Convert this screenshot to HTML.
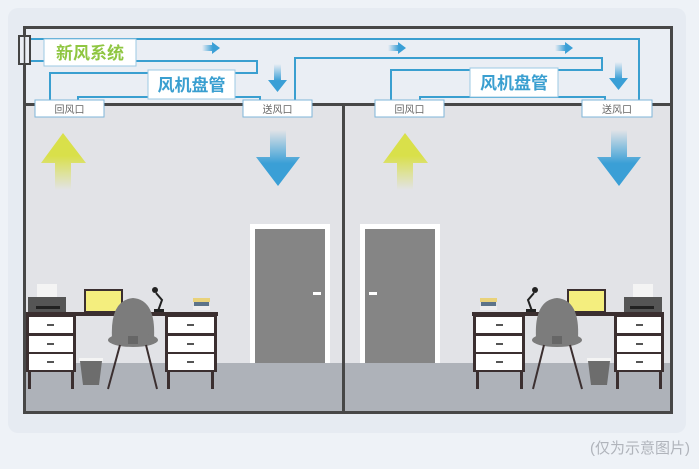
<!DOCTYPE html>
<html><head><meta charset="utf-8"><style>
html,body{margin:0;padding:0;background:#eef2f7;}
svg{display:block;font-family:"Liberation Sans","Noto Sans CJK SC",sans-serif;}
</style></head><body>
<svg width="699" height="469" viewBox="0 0 699 469" xmlns="http://www.w3.org/2000/svg">
<defs>
<linearGradient id="yel" x1="0" y1="0" x2="0" y2="1"><stop offset="0.4" stop-color="#d9e04a"/><stop offset="1" stop-color="#d9e04a" stop-opacity="0"/></linearGradient>
<linearGradient id="blu" x1="0" y1="1" x2="0" y2="0"><stop offset="0.4" stop-color="#3a9fd6"/><stop offset="1" stop-color="#3a9fd6" stop-opacity="0"/></linearGradient>
<linearGradient id="bluh" x1="1" y1="0" x2="0" y2="0"><stop offset="0.4" stop-color="#3a9fd6"/><stop offset="1" stop-color="#3a9fd6" stop-opacity="0"/></linearGradient>
<g id="furn">
 <!-- left drawer unit -->
 <rect x="26" y="312" width="192" height="4" fill="#3b2f30"/>
 <rect x="26" y="314" width="50" height="58" fill="#3b2f30"/>
 <rect x="29" y="317" width="44" height="16" fill="#fff"/>
 <rect x="29" y="336" width="44" height="16" fill="#fff"/>
 <rect x="29" y="354" width="44" height="16" fill="#fff"/>
 <rect x="47" y="324" width="7" height="2" fill="#555"/><rect x="47" y="343" width="7" height="2" fill="#555"/><rect x="47" y="361" width="7" height="2" fill="#555"/>
 <rect x="28" y="372" width="3" height="17" fill="#3b2f30"/><rect x="71" y="372" width="3" height="17" fill="#3b2f30"/>
 <rect x="165" y="314" width="52" height="58" fill="#3b2f30"/>
 <rect x="168" y="317" width="46" height="16" fill="#fff"/>
 <rect x="168" y="336" width="46" height="16" fill="#fff"/>
 <rect x="168" y="354" width="46" height="16" fill="#fff"/>
 <rect x="187" y="324" width="7" height="2" fill="#555"/><rect x="187" y="343" width="7" height="2" fill="#555"/><rect x="187" y="361" width="7" height="2" fill="#555"/>
 <rect x="167" y="372" width="3" height="17" fill="#3b2f30"/><rect x="211" y="372" width="3" height="17" fill="#3b2f30"/>
 <!-- printer -->
 <rect x="37" y="284" width="20" height="14" fill="#f4f4f4"/>
 <rect x="28" y="297" width="38" height="15" fill="#555"/>
 <rect x="36" y="306" width="24" height="3" fill="#222"/>
 <!-- laptop -->
 <rect x="84" y="289" width="39" height="23" fill="#3b2f30"/>
 <rect x="86" y="291" width="35" height="20" fill="#f4ee7e"/>
 <!-- lamp -->
 <path d="M156 293 L162 300 L158 311" stroke="#222" stroke-width="2" fill="none"/>
 <circle cx="155" cy="290" r="3" fill="#222"/>
 <rect x="154" y="309" width="10" height="3" fill="#222"/>
 <!-- books -->
 <rect x="193" y="298" width="17" height="4" fill="#e9d27a"/>
 <rect x="194" y="302" width="15" height="4" fill="#5d7489"/>
 <rect x="193" y="306" width="17" height="4" fill="#eee"/>
 <!-- chair -->
 <path d="M112 338 Q110 300 133 298 Q156 300 154 338 Z" fill="#7c7c7c"/>
 <ellipse cx="133" cy="340" rx="25" ry="7" fill="#7c7c7c"/>
 <rect x="128" y="336" width="10" height="8" fill="#666"/>
 <line x1="120" y1="345" x2="108" y2="389" stroke="#3b2f30" stroke-width="2"/>
 <line x1="146" y1="345" x2="157" y2="389" stroke="#3b2f30" stroke-width="2"/>
 <!-- bin -->
 <rect x="79" y="358" width="24" height="3" fill="#f4f4f4"/>
 <path d="M80 361 L102 361 L99 385 L83 385 Z" fill="#6d6d6d"/>
 <!-- door -->
 <rect x="250" y="224" width="80" height="139" fill="#fff"/>
 <rect x="255" y="229" width="70" height="134" fill="#858585"/>
 <rect x="313" y="292" width="8" height="3" fill="#fff"/>
</g>
</defs>
<rect width="699" height="469" fill="#eef2f7"/>
<rect x="8" y="8" width="678" height="425" rx="10" fill="#e6ebf2"/>
<!-- plenum -->
<rect x="24" y="27" width="648" height="78" fill="#eaeef4"/>
<!-- walls -->
<rect x="24" y="105" width="648" height="258" fill="#e2e3e7"/>
<rect x="24" y="363" width="648" height="49" fill="#aeb2b9"/>
<use href="#furn"/>
<use href="#furn" transform="translate(690,0) scale(-1,1)"/>
<!-- frame -->
<rect x="24.5" y="27.5" width="647" height="385" fill="none" stroke="#474747" stroke-width="3"/>
<line x1="24" y1="104.5" x2="672" y2="104.5" stroke="#474747" stroke-width="3"/>
<line x1="343.5" y1="104" x2="343.5" y2="412" stroke="#474747" stroke-width="3"/>
<!-- pipes -->
<g stroke="#3a9fd0" stroke-width="2" fill="none">
 <path d="M30 39 H639 V100"/>
 <path d="M30 61 H257 V73 H50 V100"/>
 <path d="M78 100 V97 H260 V100"/>
 <path d="M295 100 V58 H602 V70 H391 V100"/>
 <path d="M420 100 V97 H605 V100"/>
</g>
<!-- device -->
<rect x="19" y="36" width="11" height="28" fill="#eaeef4" stroke="#444" stroke-width="2"/>
<line x1="24.5" y1="37" x2="24.5" y2="63" stroke="#444" stroke-width="1.5"/>
<!-- labels -->
<rect x="44" y="39" width="92" height="27" fill="#fff" stroke="#9cc9e3" stroke-width="1"/>
<text x="90" y="59" font-size="17" font-weight="bold" fill="#8fc641" text-anchor="middle">新风系统</text>
<rect x="148" y="70" width="87" height="29" fill="#fff" stroke="#9cc9e3" stroke-width="1"/>
<text x="191.5" y="91" font-size="17" font-weight="bold" fill="#3a9fd0" text-anchor="middle">风机盘管</text>
<rect x="470" y="68" width="88" height="29" fill="#fff" stroke="#9cc9e3" stroke-width="1"/>
<text x="514" y="89" font-size="17" font-weight="bold" fill="#3a9fd0" text-anchor="middle">风机盘管</text>
<g font-size="10" fill="#666" text-anchor="middle">
 <rect x="35" y="100" width="69" height="17" fill="#fff" stroke="#7fb6d8"/><text x="69.5" y="113">回风口</text>
 <rect x="243" y="100" width="69" height="17" fill="#fff" stroke="#7fb6d8"/><text x="277.5" y="113">送风口</text>
 <rect x="375" y="100" width="69" height="17" fill="#fff" stroke="#7fb6d8"/><text x="409.5" y="113">回风口</text>
 <rect x="582" y="100" width="70" height="17" fill="#fff" stroke="#7fb6d8"/><text x="617" y="113">送风口</text>
</g>
<!-- small arrows -->
<g fill="url(#bluh)">
 <path d="M202 45 H212 V42 L220 48 L212 54 V51 H202 Z"/>
 <path d="M388 45 H398 V42 L406 48 L398 54 V51 H388 Z"/>
 <path d="M555 45 H565 V42 L573 48 L565 54 V51 H555 Z"/>
</g>
<g fill="url(#blu)">
 <path d="M274 64 H281 V80 H287 L277.5 92 L268 80 H274 Z"/>
 <path d="M615 62 H622 V78 H628 L618.5 90 L609 78 H615 Z"/>
 <path d="M270 130 H286 V157 H300 L278 186 L256 157 H270 Z"/>
 <path d="M611 130 H627 V157 H641 L619 186 L597 157 H611 Z"/>
</g>
<g fill="url(#yel)">
 <path d="M55 190 H71 V163 H86 L63 133 L41 163 H55 Z"/>
 <path d="M397 190 H413 V163 H428 L405 133 L383 163 H397 Z"/>
</g>
<text x="690" y="453" font-size="15" fill="#b0b4bb" text-anchor="end">(仅为示意图片)</text>
</svg>
</body></html>
